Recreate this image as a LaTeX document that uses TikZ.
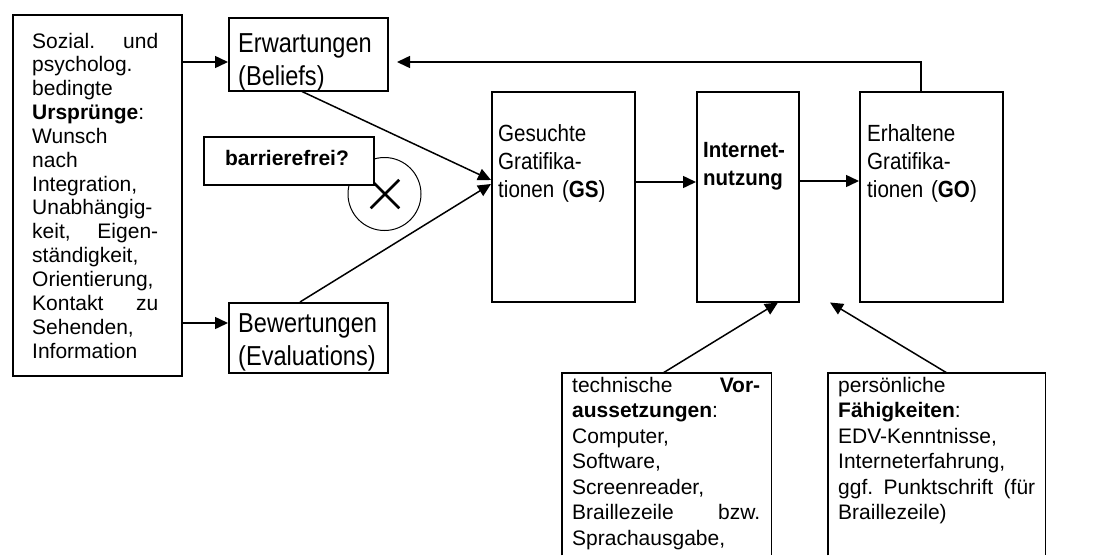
\documentclass[tikz,border=0pt]{standalone}
\usepackage{fontspec}
\setmainfont{Liberation Sans}
\newfontfamily\famE[FakeStretch=0.86]{Liberation Sans}
\newfontfamily\famG[FakeStretch=0.88]{Liberation Sans}
\newfontfamily\famI[FakeStretch=0.93]{Liberation Sans}
\usetikzlibrary{arrows.meta,shapes.misc}
\begin{document}
\begin{tikzpicture}[x=1pt,y=-1pt,
  box/.style={draw, line width=1.5pt, inner sep=0pt, anchor=north west},
  openbox/.style={inner sep=0pt, anchor=north west},
  txt/.style={inner sep=0pt, anchor=base west, align=left},
  arr/.style={line width=1.5pt, -{Triangle[length=13pt,width=12pt]}},
  fA/.style={font=\fontsize{21}{23.85}\selectfont},
  fB/.style={font=\famE\fontsize{27.4}{33.3}\selectfont},
  fC/.style={font=\famG\fontsize{23.4}{28}\selectfont},
  fI/.style={font=\famI\fontsize{22}{28}\selectfont},
  fD/.style={font=\fontsize{21}{25.5}\selectfont},
]
\useasboundingbox (0,0) rectangle (1093,555);

% boxes
\node[box, minimum width=169pt, minimum height=361pt] (src) at (12,14) {};
\node[box, minimum width=159pt, minimum height=73pt] (erw) at (228,17) {};
\node[box, minimum width=159pt, minimum height=70pt] (bew) at (228,302) {};
\node[draw, circle, line width=1pt, minimum size=73pt, inner sep=0pt] (circ) at (384.5,194) {};
\node[draw, cross out, line width=2.5pt, minimum size=26pt, inner sep=0pt] (xmark) at (385,194) {};
\node[box, fill=white, minimum width=170pt, minimum height=48pt] (bar) at (203,136) {};
\node[box, minimum width=143pt, minimum height=210pt] (gs) at (491,91) {};
\node[box, minimum width=102pt, minimum height=210pt] (inet) at (696,91) {};
\node[box, minimum width=143pt, minimum height=210pt] (go) at (859,91) {};
\node[openbox, minimum width=209pt, minimum height=182pt] (tech) at (562,373) {};
\node[openbox, minimum width=217pt, minimum height=182pt] (pers) at (828,373) {};
\draw[line width=1.5pt] (tech.south west) -- (tech.north west) -- (tech.north east) -- (tech.south east);
\draw[line width=1.5pt] (pers.south west) -- (pers.north west) -- (pers.north east) -- (pers.south east);

% texts
\node[txt, fA, text width=126pt] (srctxt) at (32,48) {Sozial.\hfill und\\
psycholog.\\
bedingte\\
\textbf{Ursprünge}:\\
Wunsch\\
nach\\
Integration,\\
Unabhängig-\\
keit,\hfill Eigen-\\
ständigkeit,\\
Orientierung,\\
Kontakt\hfill zu\\
Sehenden,\\
Information};
\node[txt, fB, text width=145pt] (erwtxt) at (238,52) {Erwartungen\\(Beliefs)};
\node[txt, fB, text width=145pt] (bewtxt) at (238,332) {Bewertungen\\(Evaluations)};
\node[inner sep=0pt, anchor=base, font=\fontsize{21}{25}\selectfont\bfseries] (bartxt) at (287,165) {barrierefrei?};
\node[txt, fC, text width=130pt] (gstxt) at (498,141) {Gesuchte\\Gratifika-\\tionen (\textbf{GS})};
\node[txt, fI, text width=90pt] (inettxt) at (703,157) {\textbf{Internet-}\\\textbf{nutzung}};
\node[txt, fC, text width=130pt] (gotxt) at (867,141) {Erhaltene\\Gratifika-\\tionen (\textbf{GO})};
\node[txt, fD, text width=188pt] (techtxt) at (572,392) {technische\hfill\textbf{Vor-}\\
\textbf{aussetzungen}:\\
Computer,\\
Software,\\
Screenreader,\\
Braillezeile\hfill bzw.\\
Sprachausgabe,};
\node[txt, fD, text width=197pt] (perstxt) at (838,392) {persönliche\\
\textbf{Fähigkeiten}:\\
EDV-Kenntnisse,\\
Interneterfahrung,\\
ggf.\hfill Punktschrift\hfill (für\\
Braillezeile)};

% helper coordinates
\coordinate (ya) at (0,62);
\coordinate (yb) at (0,323);
\coordinate (fb) at (921,62);
\coordinate (fbend) at (397,62);
\coordinate (b1) at (302,0);
\coordinate (b2) at (300,0);
\coordinate (t1) at (0,180);
\coordinate (t2) at (0,184);
\coordinate (ym) at (0,182);
\coordinate (yn) at (0,181);
\coordinate (c1) at (663,0);
\coordinate (c2) at (778,0);
\coordinate (c3) at (947,0);
\coordinate (c4) at (830,0);

% connectors
\draw[arr] (src.east |- ya) -- (erw.west |- ya);
\draw[arr] (src.east |- yb) -- (bew.west |- yb);
\draw[arr] (go.north -| fb) -- (fb) -- (fbend);
\draw[arr] (erw.south -| b1) -- (gs.west |- t1);
\draw[arr] (bew.north -| b2) -- (gs.west |- t2);
\draw[arr] (gs.east |- ym) -- (inet.west |- ym);
\draw[arr] (inet.east |- yn) -- (go.west |- yn);
\draw[arr] (tech.north -| c1) -- (inet.south -| c2);
\draw[arr] (pers.north -| c3) -- (inet.south -| c4);
\end{tikzpicture}
\end{document}
